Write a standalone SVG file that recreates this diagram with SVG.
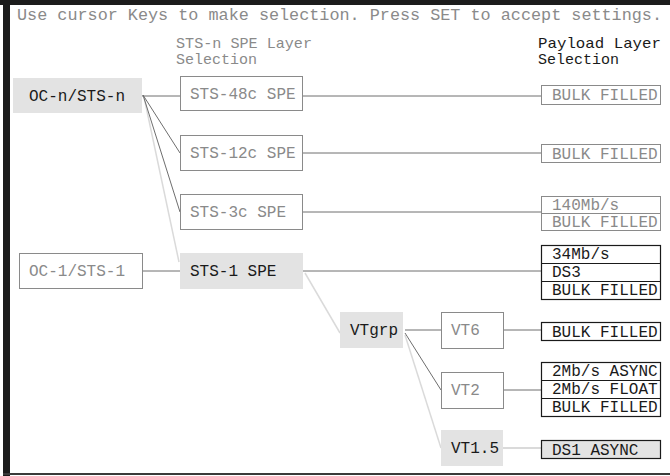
<svg xmlns="http://www.w3.org/2000/svg" width="670" height="476" viewBox="0 0 670 476">
<style>
text{font-family:"Liberation Mono","DejaVu Sans Mono",monospace;font-size:16px}
.h{font-size:15px}
.dim{fill:#8a8a8a}
.on{fill:#1a1a1a}
.fill{fill:#e3e3e3;stroke:none}
.ghost{fill:#fff;stroke:#8a8a8a;stroke-width:1}
.pg{fill:#fff;stroke:#8a8a8a;stroke-width:1}
.pb{fill:#fff;stroke:#1a1a1a;stroke-width:1.2}
.c{stroke:#6e6e6e;stroke-width:1;fill:none}
.cl{stroke:#dadada;stroke-width:1.5;fill:none}
</style>
<rect x="0" y="0" width="670" height="476" fill="#fff"/>
<rect x="0" y="0" width="670" height="5" fill="#1c1c1c"/>
<rect x="3" y="0" width="7" height="476" fill="#1c1c1c"/>
<rect x="3" y="473" width="667" height="2" fill="#3a3a3a"/>
<text x="17" y="20" class="dim" textLength="645" lengthAdjust="spacingAndGlyphs">Use cursor Keys to make selection. Press SET to accept settings.</text>
<text x="176" y="48" class="dim h" textLength="136" lengthAdjust="spacingAndGlyphs">STS-n SPE Layer</text>
<text x="176" y="64" class="dim h">Selection</text>
<text x="538" y="48" class="on h" textLength="123" lengthAdjust="spacingAndGlyphs">Payload Layer</text>
<text x="538" y="64" class="on h">Selection</text>
<g id="connectors">
<line class="cl" x1="144" y1="97" x2="179" y2="262"/>
<line class="c" x1="142" y1="96" x2="180" y2="96"/>
<line class="c" x1="143" y1="95" x2="180" y2="153"/>
<line class="c" x1="143" y1="95" x2="180" y2="212"/>
<line class="c" x1="302" y1="96" x2="541" y2="96"/>
<line class="c" x1="302" y1="153" x2="541" y2="153"/>
<line class="c" x1="302" y1="212" x2="541" y2="212"/>
<line class="c" x1="142" y1="271" x2="180" y2="271"/>
<line class="c" x1="303" y1="271" x2="541" y2="271"/>
<line class="cl" x1="305" y1="273" x2="340" y2="333"/>
<line class="c" x1="405" y1="330" x2="441" y2="330"/>
<line class="c" x1="503" y1="330" x2="541" y2="330"/>
<line class="c" x1="405" y1="333" x2="441" y2="390"/>
<line class="c" x1="503" y1="390" x2="541" y2="390"/>
<line class="cl" x1="405" y1="335" x2="441" y2="448"/>
<line class="cl" x1="503" y1="448" x2="541" y2="448" style="stroke-width:2"/>
</g>
<g id="n-ocn"><rect class="fill" x="13" y="78" width="129" height="35"/><text x="29" y="101" class="on">OC-n/STS-n</text></g>
<g id="n-sts48"><rect class="ghost" x="180.5" y="76.5" width="122" height="34"/><text x="190" y="99" class="dim">STS-48c SPE</text></g>
<g id="n-sts12"><rect class="ghost" x="180.5" y="135.5" width="122" height="35"/><text x="190" y="158" class="dim">STS-12c SPE</text></g>
<g id="n-sts3"><rect class="ghost" x="180.5" y="194.5" width="122" height="35"/><text x="190" y="217" class="dim">STS-3c SPE</text></g>
<g id="n-oc1"><rect class="ghost" x="19.5" y="253.5" width="123" height="35"/><text x="29" y="276" class="dim">OC-1/STS-1</text></g>
<g id="n-sts1"><rect class="fill" x="180" y="253" width="123" height="36"/><text x="190" y="276" class="on">STS-1 SPE</text></g>
<g id="n-vtgrp"><rect class="fill" x="340" y="312" width="63" height="36"/><text x="350" y="335" class="on">VTgrp</text></g>
<g id="n-vt6"><rect class="ghost" x="441.5" y="312.5" width="62" height="36"/><text x="451" y="335" class="dim">VT6</text></g>
<g id="n-vt2"><rect class="ghost" x="441.5" y="372.5" width="62" height="36"/><text x="451" y="395" class="dim">VT2</text></g>
<g id="n-vt15"><rect class="fill" x="441" y="430" width="62" height="36"/><text x="451" y="453" class="on">VT1.5</text></g>
<g id="p1"><rect class="pg" x="541.5" y="85.5" width="119" height="19"/><text x="552" y="100" class="dim">BULK FILLED</text></g>
<g id="p2"><rect class="pg" x="541.5" y="144.5" width="119" height="18"/><text x="552" y="159" class="dim">BULK FILLED</text></g>
<g id="p3"><rect class="pg" x="541.5" y="196.5" width="119" height="34"/><line x1="541.5" y1="213.5" x2="660.5" y2="213.5" stroke="#8a8a8a"/><text x="552" y="210" class="dim">140Mb/s</text><text x="552" y="227" class="dim">BULK FILLED</text></g>
<g id="p4"><rect class="pb" x="541.5" y="245.5" width="119" height="54"/><line x1="541.5" y1="263.5" x2="660.5" y2="263.5" stroke="#1a1a1a"/><line x1="541.5" y1="281.5" x2="660.5" y2="281.5" stroke="#1a1a1a"/><text x="552" y="259" class="on">34Mb/s</text><text x="552" y="277" class="on">DS3</text><text x="552" y="295" class="on">BULK FILLED</text></g>
<g id="p5"><rect class="pb" x="541.5" y="322.5" width="119" height="18"/><text x="552" y="337" class="on">BULK FILLED</text></g>
<g id="p6"><rect class="pb" x="541.5" y="362.5" width="119" height="54"/><line x1="541.5" y1="380.5" x2="660.5" y2="380.5" stroke="#1a1a1a"/><line x1="541.5" y1="398.5" x2="660.5" y2="398.5" stroke="#1a1a1a"/><text x="552" y="376" class="on">2Mb/s ASYNC</text><text x="552" y="394" class="on">2Mb/s FLOAT</text><text x="552" y="412" class="on">BULK FILLED</text></g>
<g id="p7"><rect x="541.5" y="440.5" width="119" height="18" fill="#e3e3e3" stroke="#1a1a1a" stroke-width="1.2"/><text x="552" y="455" class="on">DS1 ASYNC</text></g>
</svg>
